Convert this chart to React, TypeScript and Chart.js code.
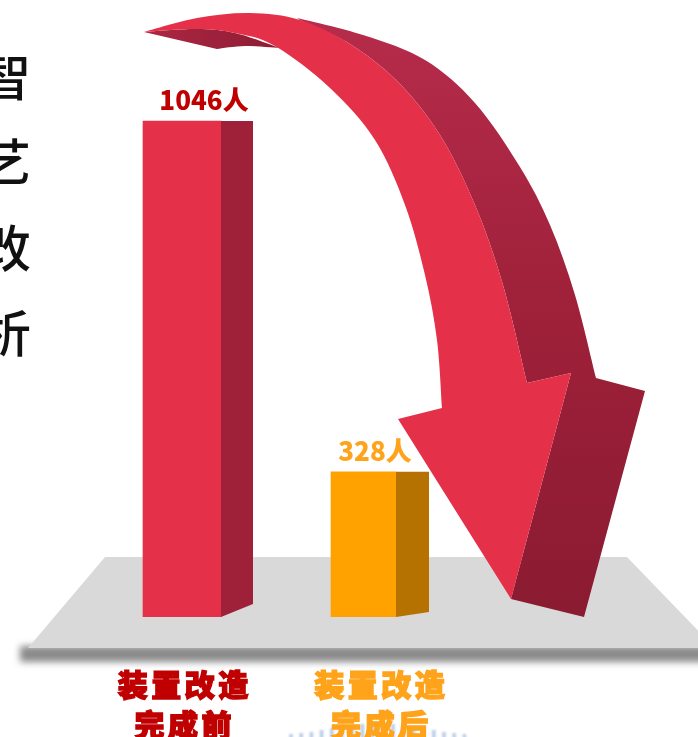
import React, { useEffect, useRef } from "react";
import { Chart, registerables } from "chart.js";

Chart.register(...registerables);

const categories = ["装置改造\n完成前", "装置改造\n完成后"];
const beforeValue = [1046, null];
const afterValue = [null, 328];
const unit = "人";
const sideText = ["智", "艺", "改", "析"];
const rippleHeights = [3, 4, 5, 7, 9, 11, 12, 13, 14, 14, 13, 12, 10, 9, 7, 5, 4, 3];

const RED = "#e5304a";
const ORANGE = "#ffa200";
const LABEL_RED = "#c00000";
const LABEL_ORANGE = "#ffa31a";
const AXIS_MIN = 31;

type P = [number, number];
const outerFront: P[] = [[144, 32], [197, 18], [250, 13], [300, 20], [350, 44], [398, 82], [440, 135], [475, 205], [503, 285], [527, 383]];
const innerFront: P[] = [[442, 408], [437, 340], [425, 275], [405, 205], [375, 140], [330, 88], [275, 46], [235, 33], [197, 29], [144, 32]];
const outerBack: P[] = [[297, 18], [363, 35], [425, 60], [475, 103], [520, 167], [550, 225], [575, 295], [596, 378]];

function curve(ctx: CanvasRenderingContext2D, pts: P[]) {
  for (let i = 0; i < pts.length - 1; i++) {
    const p0 = pts[Math.max(i - 1, 0)];
    const p1 = pts[i];
    const p2 = pts[i + 1];
    const p3 = pts[Math.min(i + 2, pts.length - 1)];
    ctx.bezierCurveTo(
      p1[0] + (p2[0] - p0[0]) / 6,
      p1[1] + (p2[1] - p0[1]) / 6,
      p2[0] - (p3[0] - p1[0]) / 6,
      p2[1] - (p3[1] - p1[1]) / 6,
      p2[0],
      p2[1]
    );
  }
}

const scene = {
  id: "scene",
  beforeDraw(chart: any) {
    const ctx: CanvasRenderingContext2D = chart.ctx;
    ctx.save();
    // ripple
    ctx.save();
    ctx.filter = "blur(0.8px)";
    ctx.strokeStyle = "rgba(176,198,228,0.9)";
    ctx.lineWidth = 3.5;
    rippleHeights.forEach((h, i) => {
      const x = 291 + i * 10.2;
      ctx.beginPath();
      ctx.moveTo(x, 740);
      ctx.lineTo(x, 737 - h);
      ctx.stroke();
    });
    ctx.restore();
    // floor shadow
    ctx.save();
    ctx.filter = "blur(3.5px)";
    ctx.fillStyle = "#8a8a8a";
    ctx.fillRect(20, 646, 730, 16);
    ctx.restore();
    // floor
    ctx.save();
    ctx.fillStyle = "#d9d9d9";
    ctx.beginPath();
    ctx.moveTo(105, 557);
    ctx.lineTo(627, 557);
    ctx.lineTo(715, 648);
    ctx.lineTo(28, 648);
    ctx.closePath();
    ctx.fill();
    ctx.restore();
    ctx.restore();
    (ctx as any).letterSpacing = "3.5px";
  },
  beforeDatasetsDraw(chart: any) {
    (chart.ctx as any).letterSpacing = "0px";
  },
  afterDatasetsDraw(chart: any) {
    const ctx: CanvasRenderingContext2D = chart.ctx;
    ctx.save();
    // bar side faces and value labels
    const sides = [
      { w: 32, drop: 13, fill: "#9f2139", text: LABEL_RED, dx: 22 },
      { w: 33, drop: 5, fill: "#b57200", text: LABEL_ORANGE, dx: 11.5 },
    ];
    chart.data.datasets.forEach((ds: any, di: number) => {
      const s = sides[di];
      chart.getDatasetMeta(di).data.forEach((el: any, i: number) => {
        if (ds.data[i] == null) return;
        const p = el.getProps(["x", "y", "base", "width"], true);
        const right = p.x + p.width / 2;
        ctx.fillStyle = s.fill;
        ctx.beginPath();
        ctx.moveTo(right, p.y);
        ctx.lineTo(right + s.w, p.y);
        ctx.lineTo(right + s.w, p.base - s.drop);
        ctx.lineTo(right, p.base);
        ctx.closePath();
        ctx.fill();
        ctx.fillStyle = s.text;
        ctx.font = '900 26px "Noto Sans CJK SC"';
        ctx.textAlign = "center";
        ctx.textBaseline = "alphabetic";
        ctx.fillText(`${ds.data[i]}${unit}`, p.x + s.dx, p.y - 11);
      });
    });

    // arrow: tail underside
    const tail = ctx.createLinearGradient(144, 0, 275, 0);
    tail.addColorStop(0, "#ad2744");
    tail.addColorStop(1, "#8f1c34");
    ctx.fillStyle = tail;
    ctx.beginPath();
    ctx.moveTo(144, 32);
    curve(ctx, [[144, 32], [197, 29], [235, 33], [280, 48]]);
    curve(ctx, [[280, 48], [245, 46], [217, 49]]);
    ctx.closePath();
    ctx.fill();

    // arrow: back
    const back = ctx.createLinearGradient(0, 20, 0, 617);
    back.addColorStop(0, "#b62c4b");
    back.addColorStop(0.5, "#9e2039");
    back.addColorStop(1, "#8a1b31");
    ctx.fillStyle = back;
    ctx.beginPath();
    ctx.moveTo(297, 18);
    curve(ctx, outerBack);
    ctx.lineTo(645, 391);
    ctx.lineTo(584, 617);
    ctx.lineTo(511, 599);
    ctx.lineTo(571, 373);
    ctx.lineTo(527, 383);
    curve(ctx, [...outerFront].reverse().slice(0, 7));
    ctx.closePath();
    ctx.fill();

    // arrow: front
    ctx.fillStyle = RED;
    ctx.beginPath();
    ctx.moveTo(144, 32);
    curve(ctx, outerFront);
    ctx.lineTo(571, 373);
    ctx.lineTo(511, 599);
    ctx.lineTo(398, 419);
    ctx.lineTo(442, 408);
    curve(ctx, innerFront);
    ctx.closePath();
    ctx.fill();

    // cropped side text
    ctx.fillStyle = "#111111";
    ctx.font = '500 50px "Noto Sans CJK SC"';
    ctx.textAlign = "right";
    ctx.textBaseline = "middle";
    sideText.forEach((t, i) => {
      ctx.fillText(t, 31, 77 + i * 85.3);
    });
    ctx.restore();
  },
};

export default function App() {
  const ref = useRef<HTMLCanvasElement>(null);
  useEffect(() => {
    document.body.style.margin = "0";
    const chart = new Chart(ref.current as HTMLCanvasElement, {
      type: "bar",
      data: {
        labels: categories,
        datasets: [
          { data: beforeValue, base: AXIS_MIN, backgroundColor: RED, barThickness: 78, grouped: false } as any,
          { data: afterValue, base: AXIS_MIN, backgroundColor: ORANGE, barThickness: 65, grouped: false } as any,
        ],
      },
      plugins: [scene],
      options: {
        responsive: false,
        animation: false,
        layout: { padding: { left: 91.25, right: 243.75, top: 100, bottom: 0 } },
        plugins: { legend: { display: false }, tooltip: { enabled: false }, title: { display: false } },
        scales: {
          x: { type: "category", display: false, grid: { display: false } },
          y: { display: false, min: AXIS_MIN, max: 1089, grid: { display: false } },
          xl: {
            type: "linear",
            position: "bottom",
            offset: false,
            min: -0.476,
            max: 1.371,
            grid: { display: false, drawTicks: false },
            border: { display: false },
            afterBuildTicks: (s: any) => {
              s.ticks = categories.map((_, i) => ({ value: i }));
            },
            afterFit: (s: any) => {
              s.height = 120;
            },
            ticks: {
              autoSkip: false,
              maxRotation: 0,
              minRotation: 0,
              padding: 48,
              font: { family: '"Noto Sans CJK SC"', weight: "900", size: 30, lineHeight: 1.33 },
              color: (c: any) => (c.index === 0 ? LABEL_RED : LABEL_ORANGE),
              textStrokeColor: (c: any) => (c.index === 0 ? LABEL_RED : LABEL_ORANGE),
              textStrokeWidth: 1.4,
              callback: (v: any) => categories[v].split("\n"),
            },
          },
        } as any,
      },
    });
    return () => chart.destroy();
  }, []);
  return <canvas ref={ref} width={698} height={737} style={{ display: "block" }} />;
}
